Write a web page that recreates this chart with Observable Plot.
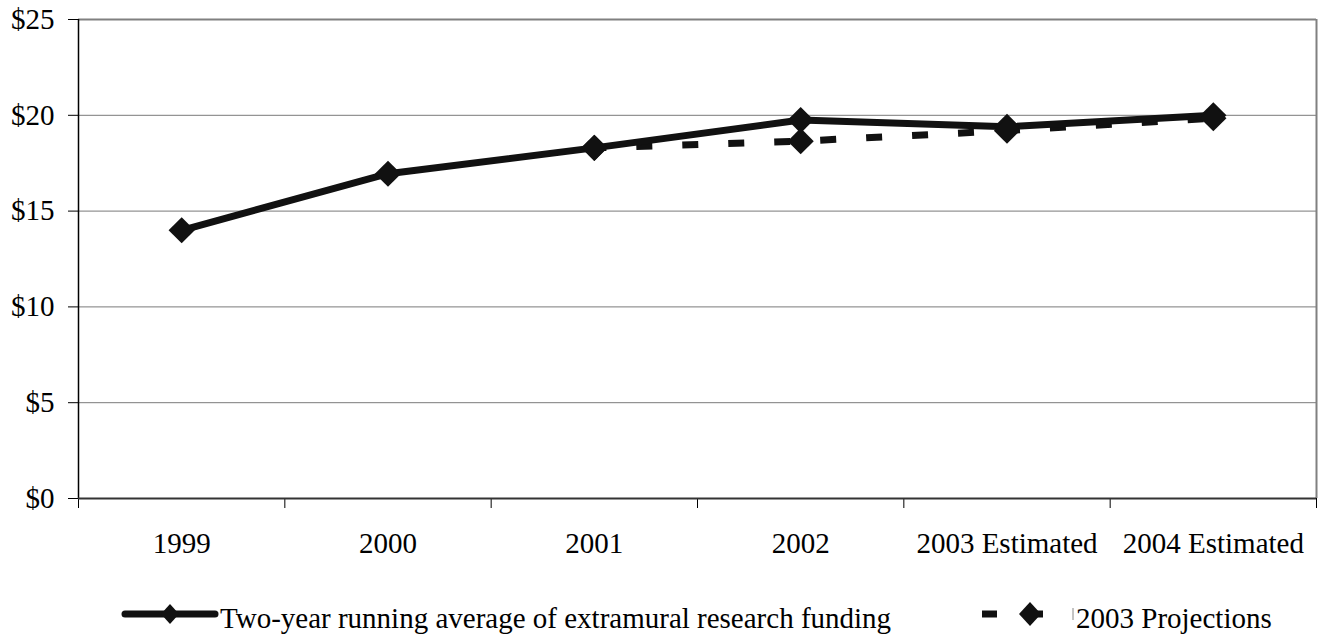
<!DOCTYPE html>
<html>
<head>
<meta charset="utf-8">
<script src="https://cdn.jsdelivr.net/npm/d3@7"></script>
<script src="https://cdn.jsdelivr.net/npm/@observablehq/plot@0.6"></script>
<style>
  html, body { margin: 0; padding: 0; background: #fff; }
  #chart svg { display: block; }
  #legend { position: relative; width: 1327px; height: 59px; font-family: "Liberation Serif", "Times New Roman", serif; font-size: 29px; color: #000; }
  #legend .lbl { position: absolute; line-height: 29px; white-space: nowrap; }
  #legend svg { position: absolute; top: 0; }
</style>
</head>
<body>
<div id="chart"></div>
<div id="legend"></div>
<script>
const categories = ["1999", "2000", "2001", "2002", "2003 Estimated", "2004 Estimated"];
const runningAverage = [14.0, 16.95, 18.3, 19.75, 19.4, 20.0];
const projectionCategories = ["2001", "2002", "2003 Estimated", "2004 Estimated"];
const projections = [18.3, 18.65, 19.2, 19.85];
const yTicks = [0, 5, 10, 15, 20, 25];
const gridValues = [5, 10, 15, 20];
const seriesNames = ["Two-year running average of extramural research funding", "2003 Projections"];

const ink = "#111";
const avgData = categories.map((c, i) => ({i: i + 0.5, v: runningAverage[i]}));
const projData = projectionCategories.map((c, k) => ({i: categories.indexOf(c) + 0.5, v: projections[k]}));
const boundaries = d3.range(categories.length + 1);
const centers = categories.map((c, i) => i + 0.5);

const chart = Plot.plot({
  width: 1327,
  height: 580,
  marginLeft: 78,
  marginRight: 11,
  marginTop: 19,
  marginBottom: 82,
  style: {fontFamily: "Liberation Serif, Times New Roman, serif", fontSize: "29px", color: "#000", background: "#fff", overflow: "visible"},
  x: {type: "linear", domain: [0, categories.length], axis: null},
  y: {domain: [0, 25], axis: null},
  marks: [
    Plot.ruleY(gridValues, {stroke: "#7a7a7a", strokeWidth: 1}),
    Plot.ruleY([25], {stroke: "#808080", strokeWidth: 2}),
    Plot.ruleX([categories.length], {stroke: "#808080", strokeWidth: 2}),
    Plot.axisY({ticks: yTicks, tickFormat: d => "$" + d, tickSize: 10, tickPadding: 14, stroke: "#000", label: null}),
    Plot.axisX({ticks: boundaries, tickFormat: () => "", tickSize: 10, stroke: "#000", label: null}),
    Plot.axisX({ticks: centers, tickFormat: d => categories[Math.round(d - 0.5)], tickSize: 0, tickPadding: 34, label: null}),
    Plot.ruleX([0], {stroke: "#000", strokeWidth: 1.5}),
    Plot.ruleY([0], {stroke: "#333", strokeWidth: 2}),
    Plot.line(projData, {x: "i", y: "v", stroke: ink, strokeWidth: 7, strokeDasharray: "16,30", strokeDashoffset: 4, strokeLinecap: "butt"}),
    Plot.line(avgData, {x: "i", y: "v", stroke: ink, strokeWidth: 7, strokeLinejoin: "round"}),
    Plot.dot(avgData, {x: "i", y: "v", symbol: "diamond2", r: 11.8, fill: ink, stroke: "none"}),
    Plot.dot(projData, {x: "i", y: "v", symbol: "diamond2", r: 11.8, fill: ink, stroke: "none"})
  ]
});
document.getElementById("chart").appendChild(chart);

// Legend (below the SVG)
const legend = d3.select("#legend");
const lineY = 614 - 580;
// item 1: solid line with diamond
const s1 = legend.append("svg").attr("width", 100).attr("height", 59).style("left", "120px");
s1.append("line").attr("x1", 5).attr("x2", 95).attr("y1", lineY).attr("y2", lineY)
  .attr("stroke", ink).attr("stroke-width", 7).attr("stroke-linecap", "round");
s1.append("path").attr("d", `M50,${lineY - 10}L59,${lineY}L50,${lineY + 10}L41,${lineY}Z`).attr("fill", ink);
legend.append("span").attr("class", "lbl").style("left", "220px").style("top", "24px").text(seriesNames[0]);
// item 2: dash + diamond
const s2 = legend.append("svg").attr("width", 100).attr("height", 59).style("left", "975px");
s2.append("line").attr("x1", 7).attr("x2", 22).attr("y1", lineY).attr("y2", lineY)
  .attr("stroke", ink).attr("stroke-width", 7);
s2.append("line").attr("x1", 48).attr("x2", 68).attr("y1", lineY).attr("y2", lineY)
  .attr("stroke", ink).attr("stroke-width", 7);
s2.append("path").attr("d", `M55,${lineY - 12}L66,${lineY}L55,${lineY + 12}L44,${lineY}Z`).attr("fill", ink);
s2.append("line").attr("x1", 98).attr("x2", 98).attr("y1", lineY - 6).attr("y2", lineY + 6)
  .attr("stroke", "#888").attr("stroke-width", 1);
legend.append("span").attr("class", "lbl").style("left", "1076px").style("top", "24px").text(seriesNames[1]);
</script>
</body>
</html>
